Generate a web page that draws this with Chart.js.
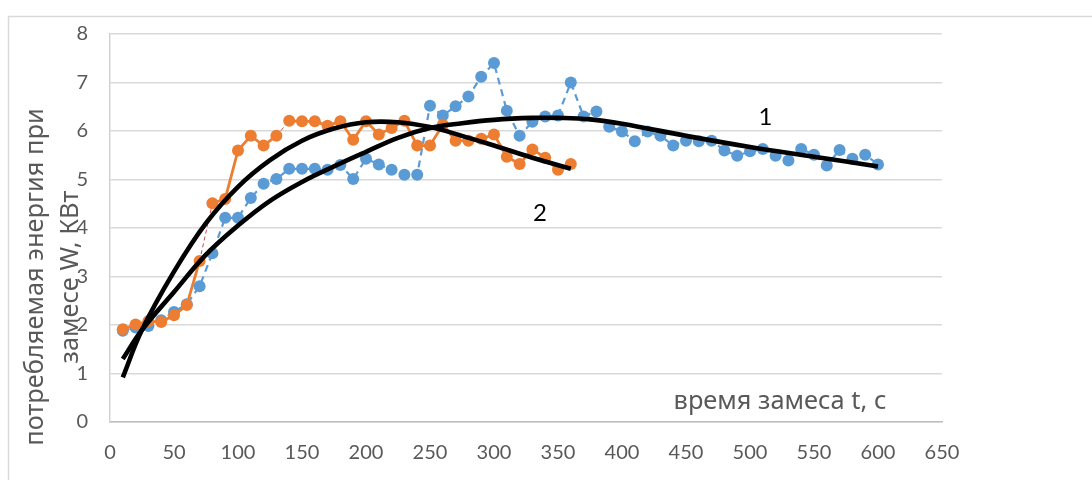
<!DOCTYPE html>
<html>
<head>
<meta charset="utf-8">
<script src="https://cdn.jsdelivr.net/npm/chart.js@4.4.1/dist/chart.umd.min.js"></script>
<style>
  html, body { margin: 0; padding: 0; background: #fff; }
</style>
</head>
<body>
<canvas id="energyChart" width="1092" height="480"></canvas>
<script>
// замес 1 (синяя кривая)
const time1 = [10, 20, 30, 40, 50, 60, 70, 80, 90, 100, 110, 120, 130, 140, 150, 160, 170, 180, 190, 200,
  210, 220, 230, 240, 250, 260, 270, 280, 290, 300, 310, 320, 330, 340, 350, 360, 370, 380, 390, 400,
  410, 420, 430, 440, 450, 460, 470, 480, 490, 500, 510, 520, 530, 540, 550, 560, 570, 580, 590, 600];
const energy1 = [1.88, 1.95, 1.98, 2.1, 2.27, 2.43, 2.8, 3.48, 4.21, 4.21, 4.62, 4.91, 5.01, 5.22, 5.22, 5.22, 5.2, 5.3, 5.01, 5.43,
  5.31, 5.2, 5.1, 5.1, 6.52, 6.32, 6.51, 6.71, 7.12, 7.4, 6.42, 5.9, 6.19, 6.3, 6.32, 7.0, 6.3, 6.4, 6.09, 5.99,
  5.79, 5.99, 5.9, 5.7, 5.8, 5.79, 5.8, 5.6, 5.49, 5.58, 5.63, 5.49, 5.39, 5.63, 5.51, 5.29, 5.61, 5.43, 5.51, 5.31];

// замес 2 (оранжевая кривая)
const time2 = [10, 20, 30, 40, 50, 60, 70, 80, 90, 100, 110, 120, 130, 140, 150, 160, 170, 180,
  190, 200, 210, 220, 230, 240, 250, 260, 270, 280, 290, 300, 310, 320, 330, 340, 350, 360];
const energy2 = [1.91, 2.01, 2.08, 2.06, 2.2, 2.41, 3.32, 4.51, 4.6, 5.6, 5.9, 5.7, 5.9, 6.21, 6.2, 6.2, 6.11, 6.2,
  5.82, 6.2, 5.93, 6.06, 6.21, 5.7, 5.7, 6.13, 5.8, 5.8, 5.84, 5.93, 5.47, 5.32, 5.62, 5.45, 5.2, 5.32];

// линии тренда
const trendTime1 = [10, 25, 50, 75, 100, 125, 150, 175, 200, 225, 250, 275, 300, 330, 350, 375, 400, 450, 500, 550, 600];
const trend1 = [1.3, 1.9, 2.68, 3.45, 4.05, 4.56, 4.95, 5.27, 5.57, 5.86, 6.06, 6.16, 6.23, 6.27, 6.27, 6.24, 6.15, 5.9, 5.67, 5.47, 5.27];
const trendTime2 = [10, 25, 50, 75, 100, 125, 150, 175, 200, 225, 250, 275, 300, 330, 360];
const trend2 = [0.92, 1.9, 3.1, 4.1, 4.85, 5.4, 5.8, 6.05, 6.18, 6.18, 6.08, 5.9, 5.7, 5.45, 5.22];

const yTitle = ["потребляемая энергия при", "замесе W, КВт"];
const xTitle = "время замеса t, с";
const curveNames = ["1", "2"];

const toPoints = (xs, ys) => xs.map((x, i) => ({ x, y: ys[i] }));

const BLUE = "#5b9bd5";
const ORANGE = "#ed7d31";
const TEXT = "#595959";

function fitFont(ctx, text, width, family) {
    ctx.font = `100px ${family}`;
    return 100 * width / ctx.measureText(text).width;
}

// рамка, подписи осей и номера кривых
const annotations = {
    id: "annotations",
    beforeDraw(chart) {
        const ctx = chart.ctx;
        ctx.save();
        ctx.strokeStyle = "#d9d9d9";
        ctx.lineWidth = 1.5;
        ctx.strokeRect(8.5, 16.5, 1200, 600);
        ctx.restore();
    },
    afterDatasetsDraw(chart) {
        const ctx = chart.ctx;
        const xs = chart.scales.x, ys = chart.scales.y;
        ctx.save();
        ctx.fillStyle = "#000";
        ctx.font = "24px Lato";
        ctx.textAlign = "center";
        ctx.textBaseline = "middle";
        ctx.fillText(curveNames[0], xs.getPixelForValue(512), ys.getPixelForValue(6.28));
        ctx.fillText(curveNames[1], xs.getPixelForValue(336), ys.getPixelForValue(4.3));

        const fam = "'Noto Sans'";
        ctx.fillStyle = TEXT;
        ctx.textBaseline = "alphabetic";
        ctx.font = fitFont(ctx, xTitle, 213, fam).toFixed(1) + "px " + fam;
        ctx.fillText(xTitle, 780, 409);
        ctx.restore();
    },
    afterDraw(chart) {
        const ctx = chart.ctx;
        const fam = "'Noto Sans'";
        ctx.save();
        ctx.fillStyle = TEXT;
        ctx.textAlign = "center";
        ctx.textBaseline = "alphabetic";
        const size = fitFont(ctx, yTitle[0], 338, fam);
        ctx.font = size.toFixed(1) + "px " + fam;
        ctx.translate(43, 277);
        ctx.rotate(-Math.PI / 2);
        ctx.fillText(yTitle[0], 0, 0);
        ctx.fillText(yTitle[1], 0, 35);
        ctx.restore();
    }
};

new Chart(document.getElementById("energyChart"), {
    type: "scatter",
    data: {
        datasets: [
            {
                data: toPoints(trendTime1, trend1),
                showLine: true,
                borderColor: "#000",
                borderWidth: 4.6,
                pointRadius: 0,
                tension: 0.4
            },
            {
                data: toPoints(trendTime2, trend2),
                showLine: true,
                borderColor: "#000",
                borderWidth: 4.6,
                pointRadius: 0,
                tension: 0.4
            },
            {
                data: toPoints(time2, energy2),
                showLine: true,
                borderColor: ORANGE,
                borderWidth: 2.8,
                pointRadius: 6,
                pointBackgroundColor: ORANGE,
                pointBorderWidth: 0,
                segment: {
                    // два отрезка оформлены тонким красным пунктиром
                    borderColor: c => (c.p0DataIndex === 6 || c.p0DataIndex === 12) ? "#c0504d" : undefined,
                    borderWidth: c => (c.p0DataIndex === 6 || c.p0DataIndex === 12) ? 1 : undefined,
                    borderDash: c => (c.p0DataIndex === 6 || c.p0DataIndex === 12) ? [4, 3] : undefined
                }
            },
            {
                data: toPoints(time1, energy1),
                showLine: true,
                borderColor: BLUE,
                borderWidth: 2.2,
                borderDash: [7, 5],
                pointRadius: 6,
                pointBackgroundColor: BLUE,
                pointBorderWidth: 0
            }
        ]
    },
    options: {
        responsive: false,
        animation: false,
        devicePixelRatio: 1,
        layout: { padding: { left: 0, top: 33, right: 150, bottom: 0 } },
        plugins: { legend: { display: false }, tooltip: { enabled: false } },
        scales: {
            x: {
                type: "linear",
                min: 0,
                max: 650,
                afterFit: s => { s.height = 58; },
                ticks: { stepSize: 50, color: TEXT, font: { family: "Lato", size: 20 }, padding: 19 },
                grid: { display: false, drawTicks: false },
                border: { display: true, color: "#bfbfbf", width: 1.5 }
            },
            y: {
                min: 0,
                max: 8,
                afterFit: s => { s.width = 110; },
                ticks: { stepSize: 1, color: TEXT, font: { family: "Lato", size: 20 }, padding: 22 },
                grid: { color: "#d9d9d9", lineWidth: 1.4, drawTicks: false },
                border: { display: true, color: "#d0d0d0", width: 1.4 }
            }
        }
    },
    plugins: [annotations]
});
</script>
</body>
</html>
